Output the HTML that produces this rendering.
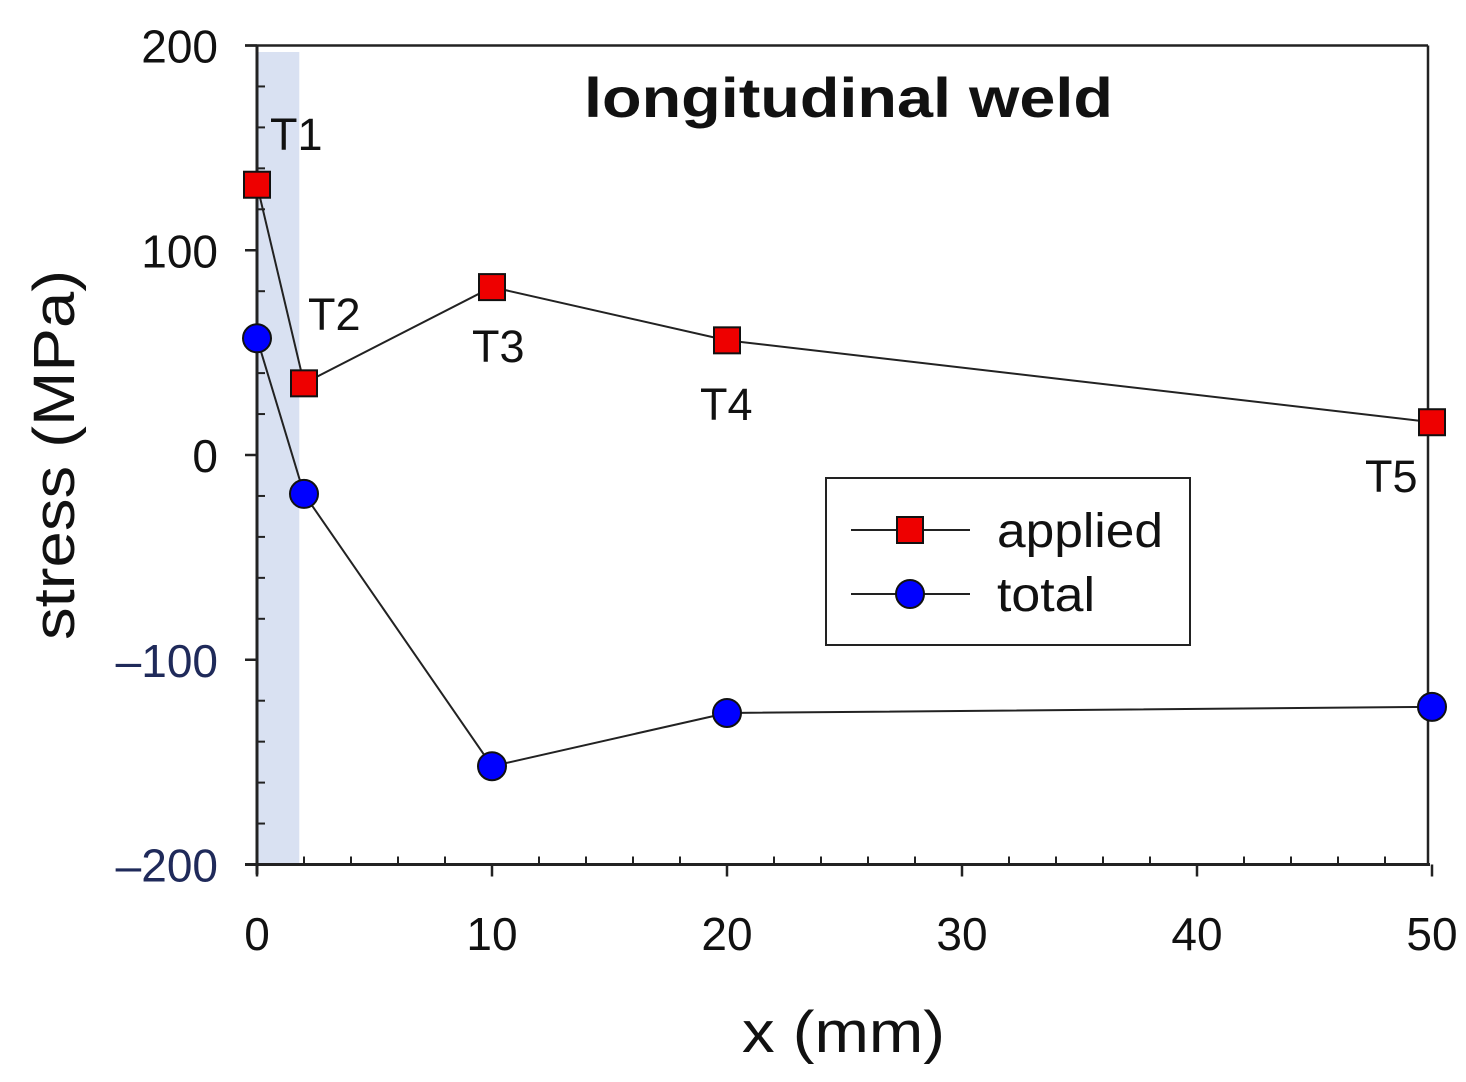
<!DOCTYPE html>
<html><head><meta charset="utf-8"><style>
body{margin:0;background:#fff}
svg text{font-family:"Liberation Sans",Arial,sans-serif}
</style></head><body>
<svg width="1466" height="1077" viewBox="0 0 1466 1077">
<g id="g"></g>
</svg>
<script>
const xs=[0,2,10,20,50];
const applied=[132,35,82,56,16];
const total=[57,-19,-152,-126,-123];
const labels=["T1","T2","T3","T4","T5"];
const xTicks=[0,10,20,30,40,50];
const yTicks=[200,100,0,-100,-200];
const ns="http://www.w3.org/2000/svg";
const g=document.getElementById('g');
function X(v){return 257+v*23.5;}
function Y(v){return 455-v*2.0475;}
function el(t,a,name,parent){const e=document.createElementNS(ns,t);for(const k in a)e.setAttribute(k,a[k]);


(parent||g).appendChild(e);return e;}
el('rect',{x:X(0),y:52,width:X(1.8)-X(0),height:Y(-200)-52,fill:'#d9e1f2'},'weld-zone-band');
el('line',{x1:245,y1:Y(200),x2:1428,y2:Y(200),stroke:'#222','stroke-width':2.5},'top-border');
el('line',{x1:1428,y1:Y(200),x2:1428,y2:Y(-200),stroke:'#222','stroke-width':2.5},'right-border');
el('line',{x1:245,y1:Y(-200),x2:1430,y2:Y(-200),stroke:'#222','stroke-width':3},'x-axis');
el('line',{x1:X(0),y1:Y(200),x2:X(0),y2:Y(-200)+10,stroke:'#222','stroke-width':3},'y-axis');
for(let v=0;v<=50;v+=2){
 if(v%10===0) el('line',{x1:X(v),y1:Y(-200),x2:X(v),y2:Y(-200)+12,stroke:'#222','stroke-width':2.5},'x-major-tick');
 else el('line',{x1:X(v),y1:Y(-200),x2:X(v),y2:Y(-200)-8,stroke:'#222','stroke-width':2},'x-minor-tick');
}
for(let v=-200;v<=200;v+=20){
 if(v%100===0) el('line',{x1:245,y1:Y(v),x2:X(0),y2:Y(v),stroke:'#222','stroke-width':2.5},'y-major-tick');
 else el('line',{x1:X(v===0?0:0),y1:Y(v),x2:X(0)+8,y2:Y(v),stroke:'#222','stroke-width':2},'y-minor-tick');
}
xTicks.forEach(v=>{const t=el('text',{x:X(v),y:950,'font-size':46,'text-anchor':'middle',fill:'#111'},'x-tick-label');t.textContent=v;});
yTicks.forEach(v=>{const t=el('text',{x:218,y:Y(v)+17,'font-size':46,'text-anchor':'end',fill:v<0?'#1f2a5a':'#111'},'y-tick-label');t.textContent=v<0?'\u2013'+(-v):v;});
function poly(arr,name){el('polyline',{points:xs.map((x,i)=>X(x)+','+Y(arr[i])).join(' '),fill:'none',stroke:'#222','stroke-width':2},name);}
poly(total,'total-line');poly(applied,'applied-line');
total.forEach((v,i)=>el('circle',{cx:X(xs[i]),cy:Y(v),r:14,fill:'#0000ff',stroke:'#111','stroke-width':2},'total-point'));
applied.forEach((v,i)=>el('rect',{x:X(xs[i])-13,y:Y(v)-13,width:26,height:26,fill:'#ee0000',stroke:'#111','stroke-width':2},'applied-point'));
const lp=[[270,150],[308,330],[472,362],[700,420],[1365,492]];
labels.forEach((l,i)=>{const t=el('text',{x:lp[i][0],y:lp[i][1],'font-size':45,fill:'#111'},'point-label');t.textContent=l;});
const ti=el('text',{x:584,y:117,'font-size':56,'font-weight':'bold',fill:'#111',textLength:529,lengthAdjust:'spacingAndGlyphs'},'chart-title');ti.textContent='longitudinal weld';
const xt=el('text',{x:742,y:1052,'font-size':58,fill:'#111',textLength:203,lengthAdjust:'spacingAndGlyphs'},'x-axis-title');xt.textContent='x (mm)';
const yt=el('text',{x:0,y:0,'font-size':58,'text-anchor':'middle',fill:'#111',textLength:370,lengthAdjust:'spacingAndGlyphs',transform:'translate(74,455) rotate(-90)'},'y-axis-title');yt.textContent='stress (MPa)';
const lg=el('g',{},'legend');
el('rect',{x:826,y:478,width:364,height:167,fill:'#fff',stroke:'#222','stroke-width':2},'legend-box',lg);
el('line',{x1:851,y1:530,x2:970,y2:530,stroke:'#222','stroke-width':2},'legend-applied-line',lg);
el('rect',{x:897,y:517,width:26,height:26,fill:'#ee0000',stroke:'#111','stroke-width':2},'legend-applied-marker',lg);
el('line',{x1:851,y1:594,x2:970,y2:594,stroke:'#222','stroke-width':2},'legend-total-line',lg);
el('circle',{cx:910,cy:594,r:14,fill:'#0000ff',stroke:'#111','stroke-width':2},'legend-total-marker',lg);
const a=el('text',{x:997,y:547,'font-size':48,fill:'#111',textLength:166,lengthAdjust:'spacingAndGlyphs'},'legend-applied-label',lg);a.textContent='applied';
const b=el('text',{x:997,y:611,'font-size':48,fill:'#111',textLength:98,lengthAdjust:'spacingAndGlyphs'},'legend-total-label',lg);b.textContent='total';
</script>
</body></html>
